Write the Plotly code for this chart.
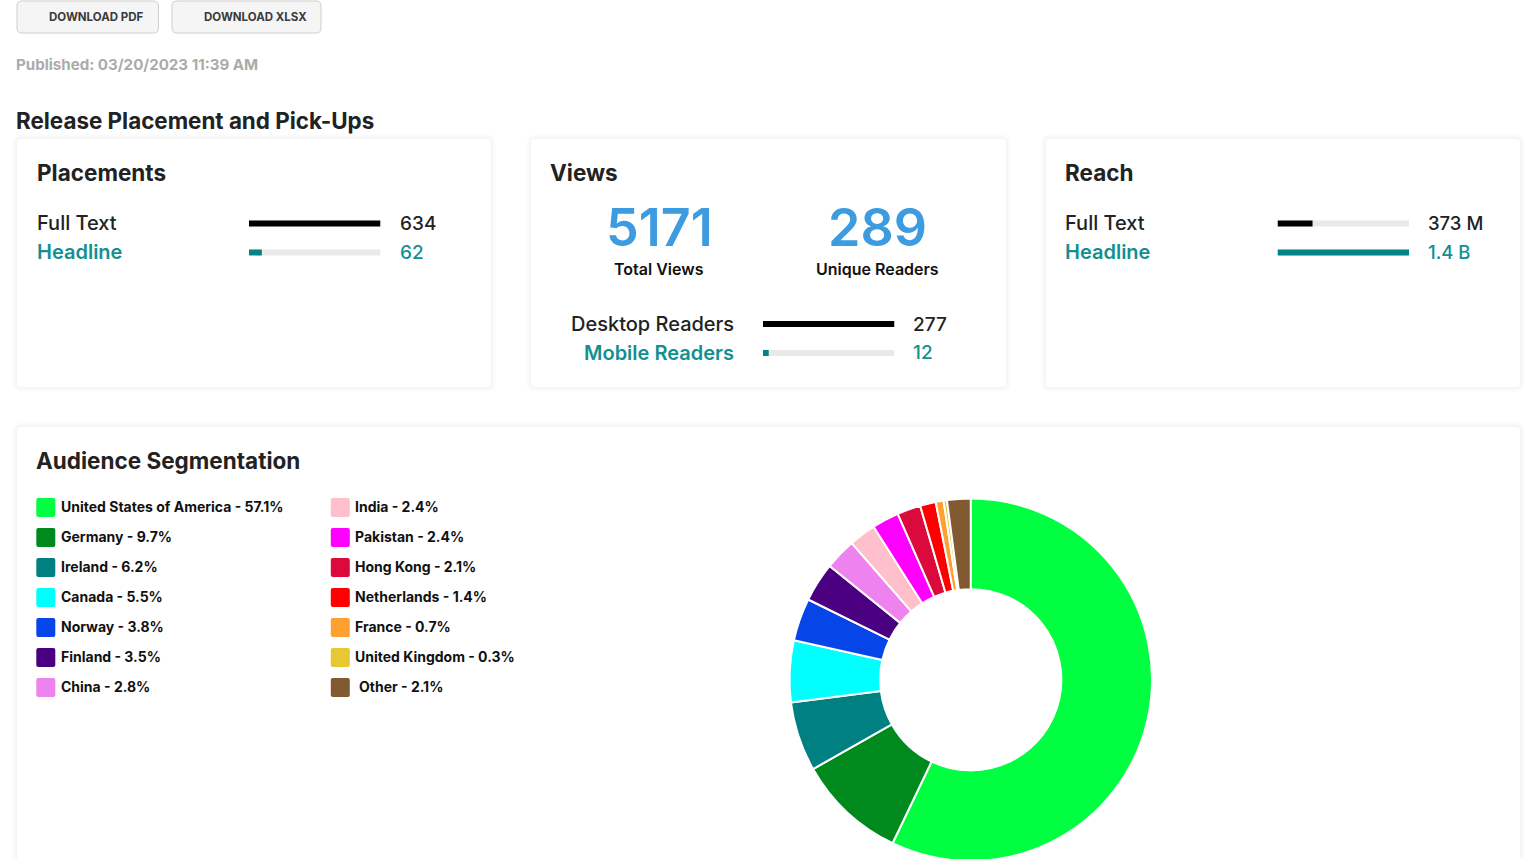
import plotly.graph_objects as go

W, H = 1536, 870
FONT = "Inter"
DARK = "#222222"
TEAL = "#12908F"
BAR_TEAL = "#008487"
TRACK = "#E9E9E9"
BLUE = "#3D9BE0"

# Data
placement_labels = ["Full Text", "Headline"]
placement_values = [634, 62]
placement_text = ["634", "62"]

reader_labels = ["Desktop Readers", "Mobile Readers"]
reader_values = [277, 12]
reader_text = ["277", "12"]

reach_labels = ["Full Text", "Headline"]
reach_values = [373, 1400]
reach_text = ["373 M", "1.4 B"]

view_numbers = ["5171", "289"]
view_captions = ["Total Views", "Unique Readers"]

countries = ["United States of America", "Germany", "Ireland", "Canada", "Norway", "Finland", "China",
             "India", "Pakistan", "Hong Kong", "Netherlands", "France", "United Kingdom", "Other"]
shares = [57.1, 9.7, 6.2, 5.5, 3.8, 3.5, 2.8, 2.4, 2.4, 2.1, 1.4, 0.7, 0.3, 2.1]
country_colors = ["#00FF40", "#008A1E", "#008080", "#00FFFF", "#0645E8", "#4B0082", "#EE82EE",
                  "#FFC0CB", "#FF00FF", "#DC0A3C", "#FF0000", "#FFA030", "#E6C832", "#825A32"]


def px(x):
    return x / W


def py(y):
    return 1 - y / H


def rounded(x0, y0, x1, y1, r):
    return (f"M {px(x0 + r)} {py(y0)} L {px(x1 - r)} {py(y0)} Q {px(x1)} {py(y0)} {px(x1)} {py(y0 + r)} "
            f"L {px(x1)} {py(y1 - r)} Q {px(x1)} {py(y1)} {px(x1 - r)} {py(y1)} "
            f"L {px(x0 + r)} {py(y1)} Q {px(x0)} {py(y1)} {px(x0)} {py(y1 - r)} "
            f"L {px(x0)} {py(y0 + r)} Q {px(x0)} {py(y0)} {px(x0 + r)} {py(y0)} Z")


shapes = []
annotations = []


def box(x0, y0, x1, y1, r, fill, line=None):
    shapes.append(dict(type="path", path=rounded(x0, y0, x1, y1, r), xref="paper", yref="paper",
                       fillcolor=fill, line=dict(width=1 if line else 0, color=line or fill), layer="below"))


def card(x0, y0, x1, y1):
    for grow in (5, 4, 3, 2, 1):
        box(x0 - grow, y0 - grow, x1 + grow, y1 + grow, 4 + grow, "rgba(0,0,0,0.008)")
    box(x0, y0, x1, y1, 4, "#FFFFFF")


def text(x, y, s, size, color=DARK, weight=500, anchor="left"):
    # annotations sit a pixel or so inside their anchor
    nudge = {"left": -1.2, "right": 1.0, "center": 0}[anchor]
    annotations.append(dict(x=px(x + nudge), y=py(y), xref="paper", yref="paper", text=s, showarrow=False,
                            xanchor=anchor, yanchor="middle", borderpad=0,
                            font=dict(family=FONT, size=size, color=color, weight=weight)))


fig = go.Figure()


def bar_rows(n, left, top, values):
    # one small axis pair per metric block, the track drawn behind the value
    fig.add_trace(go.Bar(x=[max(values)] * 2, y=[0, 1], orientation="h", width=0.2,
                         marker=dict(color=TRACK, line_width=0), xaxis=f"x{n}", yaxis=f"y{n}",
                         hoverinfo="skip"))
    fig.add_trace(go.Bar(x=values, y=[0, 1], orientation="h", width=0.2,
                         marker=dict(color=["#000000", BAR_TEAL], line_width=0), xaxis=f"x{n}", yaxis=f"y{n}"))
    fig.update_layout({
        f"xaxis{n}": dict(domain=[px(left), px(left + 131.5)], range=[0, max(values)], visible=False,
                          anchor=f"y{n}", fixedrange=True),
        f"yaxis{n}": dict(domain=[py(top + 29), py(top - 29)], range=[1.5, -0.5], visible=False,
                          anchor=f"x{n}", fixedrange=True),
    })


# Header
box(17, 1, 158.5, 33, 5, "#F5F5F5", "#CFCFCF")
box(172, 1, 321, 33, 5, "#F5F5F5", "#CFCFCF")
text(96, 17, "DOWNLOAD PDF", 11.5, "#3A3A3A", 700, "center")
text(255, 17, "DOWNLOAD XLSX", 11.5, "#3A3A3A", 700, "center")
text(16.5, 65, "Published: 03/20/2023 11:39 AM", 15.1, "#ABABAB", 700)
text(16, 120.5, "Release Placement and Pick-Ups", 22.4, DARK, 700)

# Cards
card(17, 139, 491, 387)
card(531, 139, 1006, 387)
card(1046, 139, 1520, 387)
card(17, 427, 1520, 900)

text(37, 172.5, "Placements", 22.5, DARK, 700)
text(550, 172.5, "Views", 22.5, DARK, 700)
text(1065, 172.5, "Reach", 22.5, DARK, 700)
text(36.5, 460.5, "Audience Segmentation", 22.5, DARK, 700)

# Placements
bar_rows(2, 249, 238, placement_values)
for i, color in enumerate([DARK, TEAL]):
    text(37, 223 + 29 * i, placement_labels[i], 20, color, 500 if i == 0 else 600)
    text(400, 223.5 + 29 * i, placement_text[i], 19, color, 500)

# Views
for cx, number, caption in zip([659, 877], view_numbers, view_captions):
    text(cx, 227, number, 52, BLUE, 600, "center")
    text(cx, 269, caption, 16, "#111111", 600, "center")
bar_rows(3, 763, 338.5, reader_values)
for i, color in enumerate([DARK, TEAL]):
    text(734, 324 + 29 * i, reader_labels[i], 20, color, 500 if i == 0 else 600, "right")
    text(913, 324 + 29 * i, reader_text[i], 19, color, 500)

# Reach
bar_rows(4, 1277.5, 238, reach_values)
for i, color in enumerate([DARK, TEAL]):
    text(1065, 223 + 29 * i, reach_labels[i], 20, color, 500 if i == 0 else 600)
    text(1428, 223 + 29 * i, reach_text[i], 18.5, color, 500)

# Legend, two columns of seven
for i, (name, share, color) in enumerate(zip(countries, shares, country_colors)):
    col, row = divmod(i, 7)
    x = 36.3 + col * 294.5
    y = 507.5 + row * 30
    box(x, y - 9.5, x + 19, y + 9.5, 2, color)
    offset = 3.5 if name == "Other" else 0
    text(x + 24.5 + offset, y - 1.2, f"{name} - {share}%", 14, "#111111", 700)

# Donut
fig.add_trace(go.Pie(values=shares, labels=countries, sort=False, direction="clockwise", rotation=0,
                     hole=0.5, textinfo="none", showlegend=False,
                     marker=dict(colors=country_colors, line=dict(color="#FFFFFF", width=2)),
                     domain=dict(x=[px(789.5), px(1152)], y=[py(861), py(498.5)])))

fig.update_layout(width=W, height=H, margin=dict(l=0, r=0, t=0, b=0), autosize=False,
                  paper_bgcolor="#FFFFFF", plot_bgcolor="rgba(0,0,0,0)", barmode="overlay",
                  showlegend=False, shapes=shapes, annotations=annotations,
                  xaxis=dict(visible=False), yaxis=dict(visible=False))

fig.write_html("out.html", config=dict(displayModeBar=False),
               post_script="document.body.style.margin='0';document.body.style.overflow='hidden';")
